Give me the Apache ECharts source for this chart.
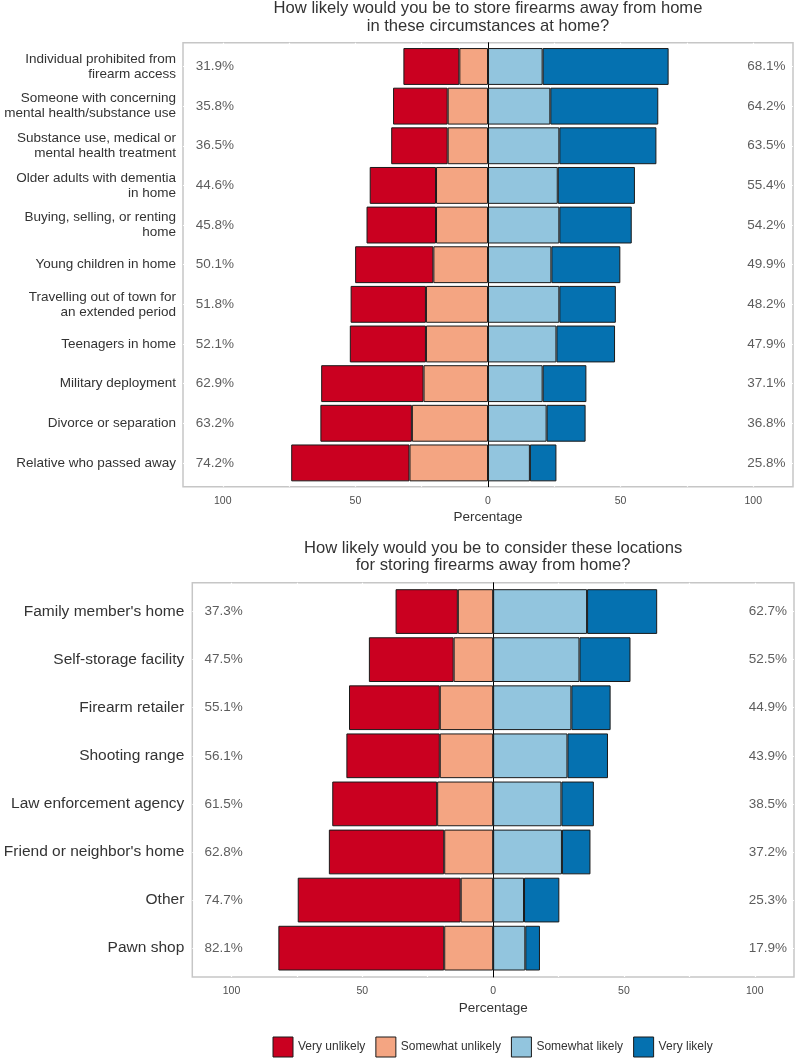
<!DOCTYPE html>
<html>
<head>
<meta charset="utf-8">
<script src="https://cdn.jsdelivr.net/npm/echarts@6/dist/echarts.min.js"></script>
<style>
  html, body { margin: 0; padding: 0; background: #fff; }
  #chart { width: 797px; height: 1060px; }
</style>
</head>
<body>
<div id="chart"></div>
<script>
// response levels, same for both panels
var levels = ['Very unlikely', 'Somewhat unlikely', 'Somewhat likely', 'Very likely'];
var levelColors = ['#ca0020', '#f4a582', '#92c5de', '#0571b0'];

// top panel - circumstances at home
var circTitle = 'How likely would you be to store firearms away from home\nin these circumstances at home?';
var circCats = [
  'Individual prohibited from\nfirearm access',
  'Someone with concerning\nmental health/substance use',
  'Substance use, medical or\nmental health treatment',
  'Older adults with dementia\nin home',
  'Buying, selling, or renting\nhome',
  'Young children in home',
  'Travelling out of town for\nan extended period',
  'Teenagers in home',
  'Military deployment',
  'Divorce or separation',
  'Relative who passed away'
];
var circVeryUnlikely     = [21.1, 20.6, 21.3, 25.0, 26.2, 29.5, 28.4, 28.7, 38.6, 34.5, 44.6];
var circSomewhatUnlikely = [10.8, 15.2, 15.2, 19.6, 19.6, 20.6, 23.4, 23.4, 24.3, 28.7, 29.6];
var circSomewhatLikely   = [20.6, 23.5, 26.9, 26.3, 26.9, 23.9, 26.9, 25.8, 20.6, 22.1, 15.8];
var circVeryLikely       = [47.5, 40.7, 36.6, 29.1, 27.3, 26.0, 21.3, 22.1, 16.5, 14.7, 10.0];

// bottom panel - storage locations
var locTitle = 'How likely would you be to consider these locations\nfor storing firearms away from home?';
var locCats = [
  "Family member's home",
  'Self-storage facility',
  'Firearm retailer',
  'Shooting range',
  'Law enforcement agency',
  "Friend or neighbor's home",
  'Other',
  'Pawn shop'
];
var locVeryUnlikely     = [23.8, 32.4, 34.7, 35.7, 40.1, 44.1, 62.3, 63.4];
var locSomewhatUnlikely = [13.5, 15.1, 20.4, 20.4, 21.4, 18.7, 12.4, 18.7];
var locSomewhatLikely   = [35.9, 33.0, 29.9, 28.4, 26.1, 26.3, 11.8, 12.3];
var locVeryLikely       = [26.8, 19.5, 15.0, 15.5, 12.4, 10.9, 13.5, 5.6];

// axis ticks
var xTickLabels = [-100, -50, 0, 50, 100];
var xGridLines = [-100, -75, -50, -25, 0, 25, 50, 75, 100];

var FONT = '"Liberation Sans", Arial, Helvetica, sans-serif';
var TXT = '#333333';

var option = {
  animation: false,
  backgroundColor: '#ffffff',
  textStyle: { fontFamily: FONT },
  title: [],
  grid: [],
  xAxis: [],
  yAxis: [],
  series: [],
  legend: {
    data: levels,
    left: 272.5,
    top: 1036.5,
    padding: 0,
    icon: 'rect',
    itemWidth: 20,
    itemHeight: 20,
    itemGap: 10,
    itemStyle: { borderColor: '#1a1a1a', borderWidth: 1 },
    textStyle: { fontSize: 12, color: TXT, fontFamily: FONT }
  }
};

// one likert panel = outer grid (border, ticks, zero line) + inner grid (bars)
function addPanel(p) {
  var n = p.cats.length;
  var pad = p.height * 0.1 / (n + 0.2);
  var g = option.grid.length;
  var rows = p.cats.map(function (c, i) { return i + 1; });

  option.title.push({
    text: p.title,
    left: p.left + p.width / 2,
    top: p.titleTop,
    textAlign: 'center',
    padding: 0,
    textStyle: { fontSize: 16.6, fontWeight: 'normal', color: TXT, lineHeight: 17.5, fontFamily: FONT }
  });

  option.grid.push({
    left: p.left, top: p.top, width: p.width, height: p.height,
    show: true, backgroundColor: '#fff', borderColor: '#c6c6c6', borderWidth: 1.5
  });
  option.grid.push({
    left: p.left, top: p.top + pad, width: p.width, height: p.height - 2 * pad
  });

  option.xAxis.push({
    gridIndex: g, type: 'value', min: -115, max: 115,
    axisLine: { show: false, onZero: false },
    axisTick: { show: false, customValues: xGridLines },
    splitLine: { show: true, lineStyle: { color: '#ffffff', width: 1.2 } },
    axisLabel: {
      customValues: xTickLabels,
      formatter: function (v) { return Math.abs(v); },
      fontSize: 10.5, color: '#4d4d4d', margin: 9
    },
    name: 'Percentage', nameLocation: 'middle', nameGap: 24,
    nameTextStyle: { fontSize: 13.5, color: TXT }
  });
  option.xAxis.push({ gridIndex: g + 1, type: 'value', min: -115, max: 115, show: false });

  option.yAxis.push({
    gridIndex: g, type: 'value', inverse: true, min: 0.4, max: n + 0.6,
    axisLine: { show: true, onZero: true, lineStyle: { color: '#000', width: 1 } },
    axisTick: { show: false, customValues: rows },
    axisLabel: { show: false },
    splitLine: { show: true, lineStyle: { color: '#ffffff', width: 1.2 } }
  });
  option.yAxis.push({
    gridIndex: g + 1, type: 'category', inverse: true, data: p.cats,
    axisLine: { show: false }, axisTick: { show: false },
    axisLabel: { margin: p.labelMargin, fontSize: p.catFont, lineHeight: 15, color: TXT, align: 'right' }
  });

  var segs = [p.vu, p.su, p.sl, p.vl];
  // negative side: somewhat next to zero, very further out
  [1, 0, 2, 3].forEach(function (k) {
    var sign = k < 2 ? -1 : 1;
    option.series.push({
      type: 'bar', name: levels[k], stack: 'likert' + g,
      xAxisIndex: g + 1, yAxisIndex: g + 1,
      barCategoryGap: '7%',
      itemStyle: { color: levelColors[k], borderColor: '#1a1a1a', borderWidth: 1 },
      data: segs[k].map(function (v) { return sign * v; })
    });
  });

  var leftPct = p.vu.map(function (v, i) { return (v + p.su[i]).toFixed(1) + '%'; });
  var rightPct = p.sl.map(function (v, i) { return (v + p.vl[i]).toFixed(1) + '%'; });
  [[-103, leftPct], [105, rightPct]].forEach(function (side) {
    option.series.push({
      type: 'scatter', xAxisIndex: g + 1, yAxisIndex: g + 1,
      symbolSize: 1, itemStyle: { color: 'rgba(0,0,0,0)' }, silent: true,
      label: {
        show: true, position: 'inside', fontSize: 13.5, color: TXT,
        formatter: function (prm) { return side[1][prm.dataIndex]; }
      },
      data: p.cats.map(function (c, i) { return [side[0], i]; })
    });
  });
}

addPanel({
  title: circTitle, titleTop: 0,
  cats: circCats, vu: circVeryUnlikely, su: circSomewhatUnlikely, sl: circSomewhatLikely, vl: circVeryLikely,
  left: 183, top: 42.7, width: 610, height: 444,
  catFont: 13.5, labelMargin: 7
});

addPanel({
  title: locTitle, titleTop: 539.5,
  cats: locCats, vu: locVeryUnlikely, su: locSomewhatUnlikely, sl: locSomewhatLikely, vl: locVeryLikely,
  left: 192.3, top: 582.7, width: 601.7, height: 394.3,
  catFont: 15.5, labelMargin: 8
});

var chart = echarts.init(document.getElementById('chart'), null, { renderer: 'canvas' });
chart.setOption(option);
</script>
</body>
</html>
